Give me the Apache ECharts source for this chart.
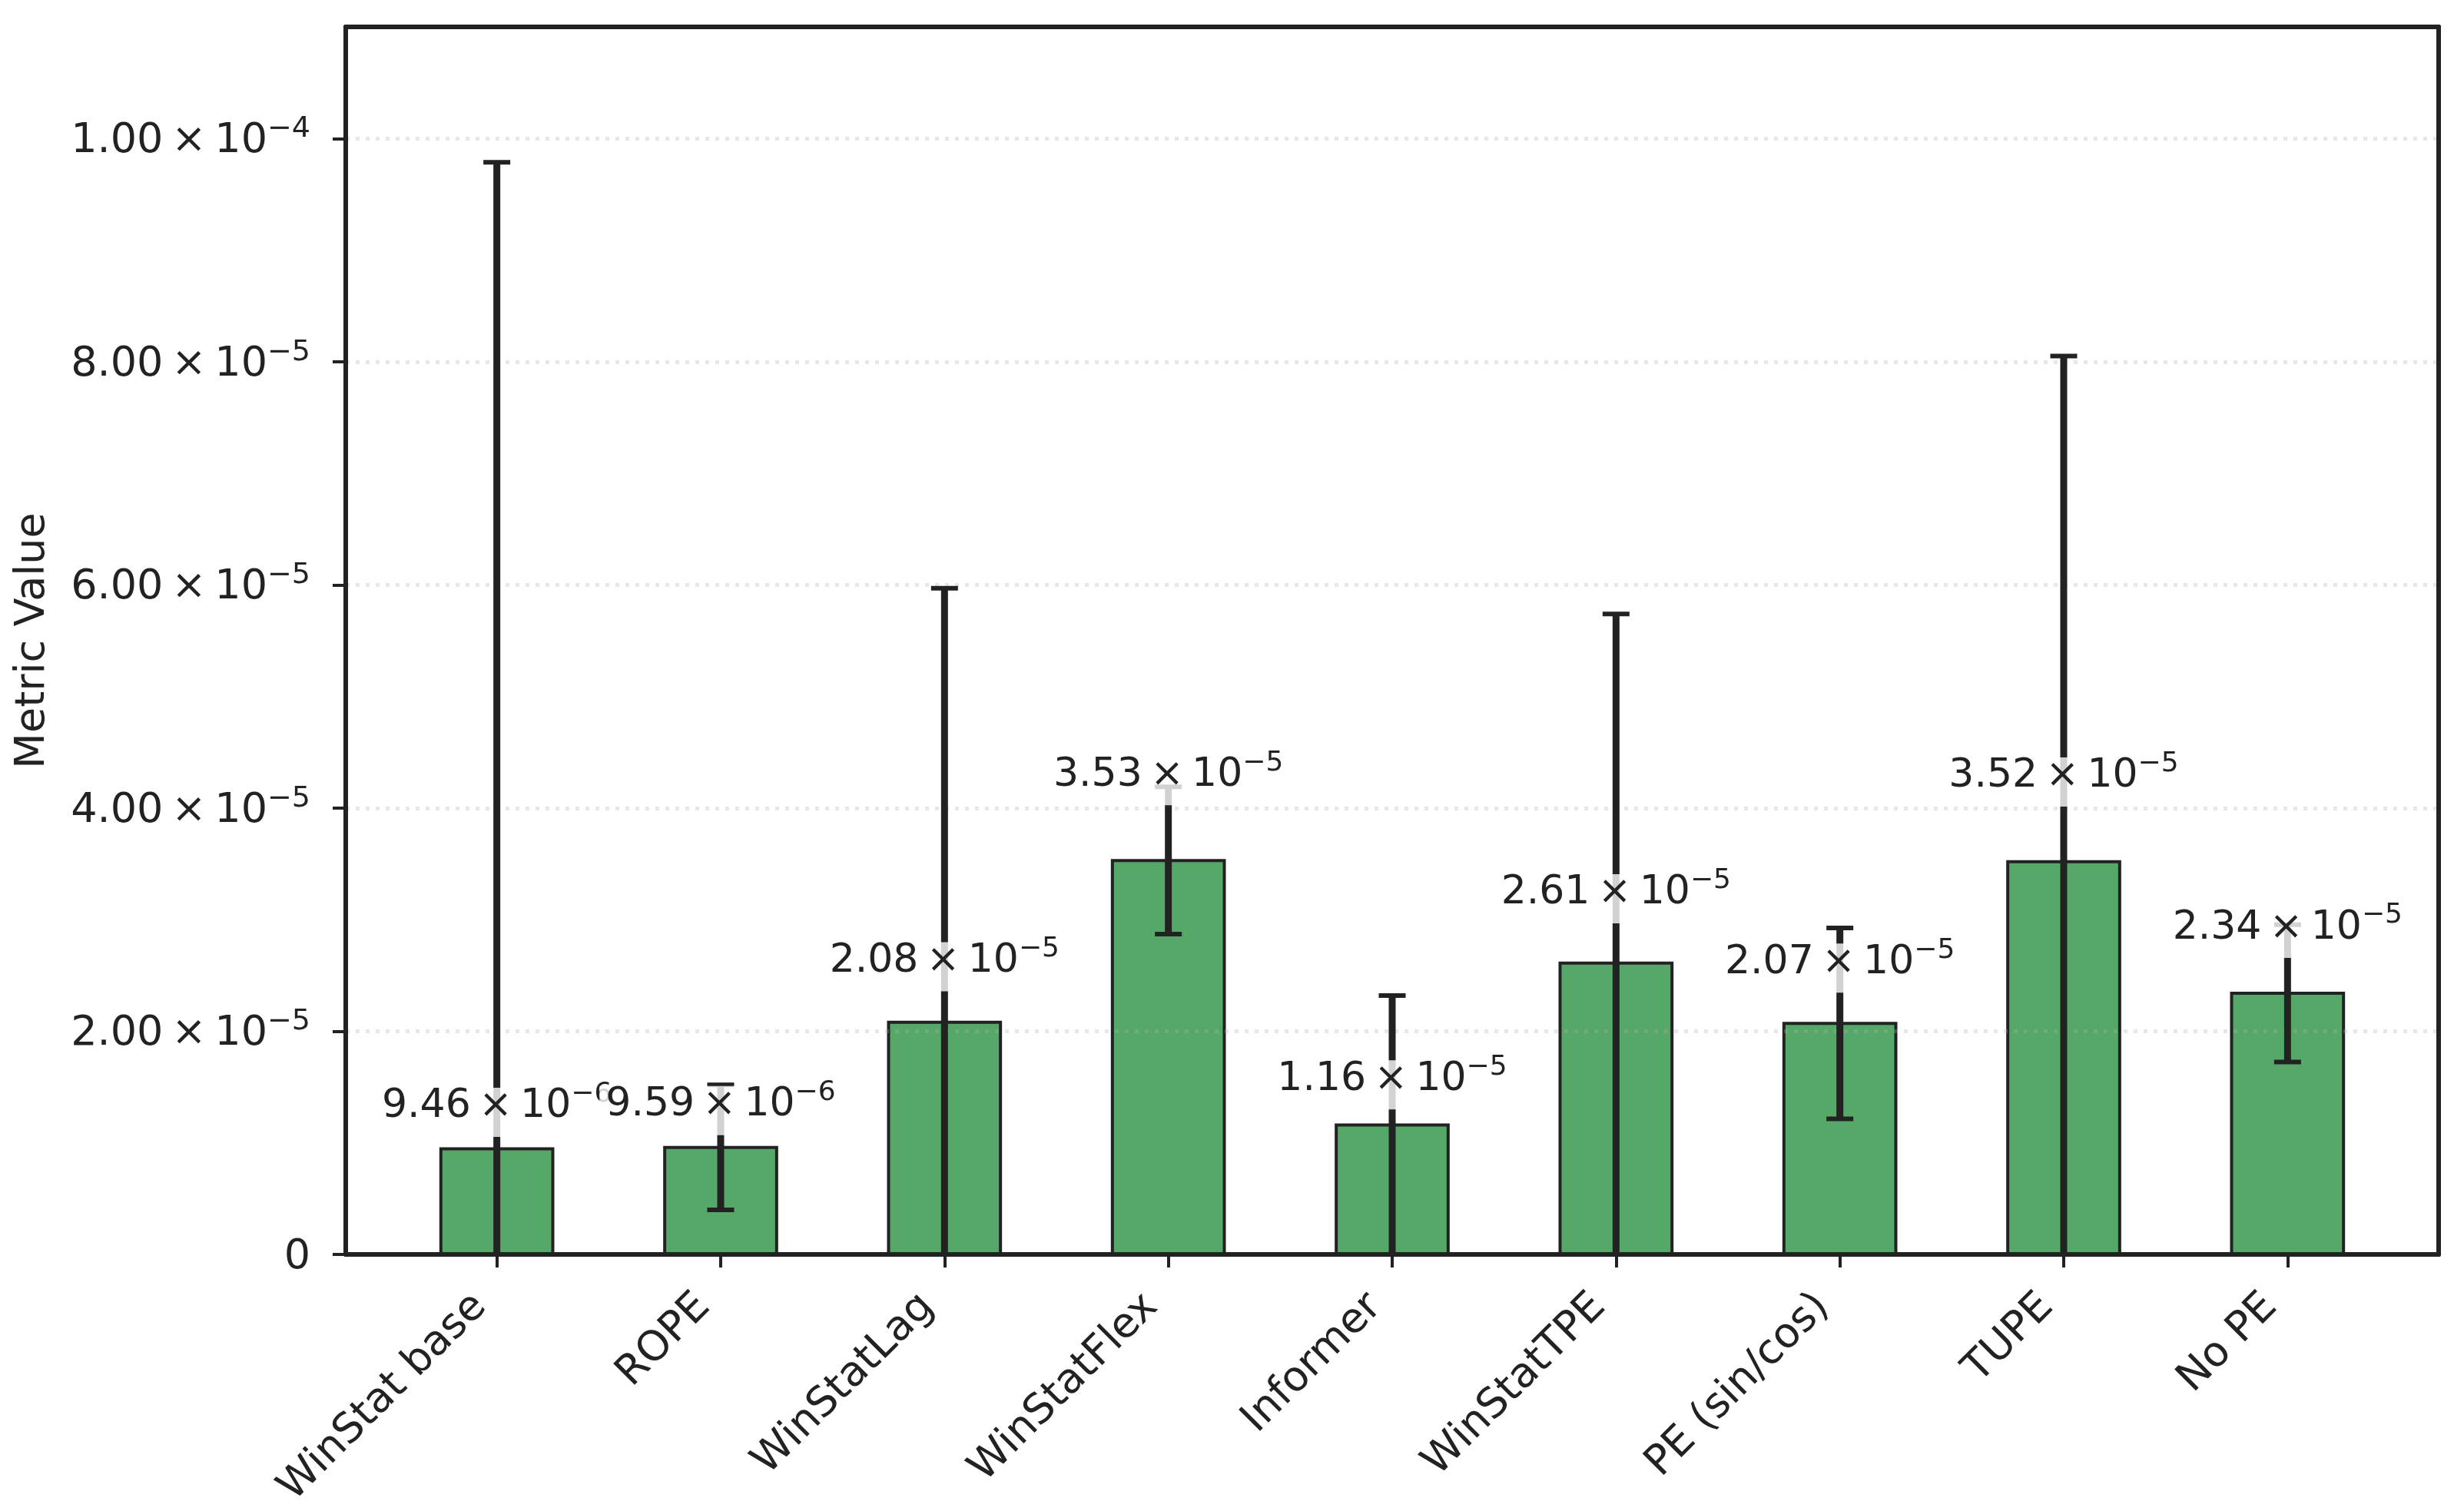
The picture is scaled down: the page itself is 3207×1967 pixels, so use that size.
<!DOCTYPE html>
<html><head><meta charset="utf-8">
<script src="https://cdn.jsdelivr.net/npm/echarts@6/dist/echarts.min.js"></script>
<style>html,body{margin:0;padding:0;background:#fff}#chart{width:3207px;height:1967px}</style>
</head><body><div id="chart"></div>
<script>
const categories = ['WinStat base','ROPE','WinStatLag','WinStatFlex','Informer','WinStatTPE','PE (sin/cos)','TUPE','No PE'];
const means  = [9.46e-6, 9.59e-6, 2.08e-5, 3.53e-5, 1.16e-5, 2.61e-5, 2.07e-5, 3.52e-5, 2.34e-5];
const errors = [8.84e-5, 5.6e-6, 3.89e-5, 6.6e-6, 1.16e-5, 3.13e-5, 8.55e-6, 4.53e-5, 6.15e-6];
const yTicks = [0, 2e-5, 4e-5, 6e-5, 8e-5, 1e-4];
const xTicks = categories.map((c, i) => i);

const FONT = 'DejaVu Sans';
const DARK = '#222222';
const BAR_W = 0.5;
const LABEL_FACTOR = 1.15;

function sci(v) {
  if (v === 0) return '{b|0}';
  const e = Math.floor(Math.log10(v) + 1e-9);
  const m = v / Math.pow(10, e);
  return '{b|' + m.toFixed(2) + '\u2009×\u200910}{s|' + (e < 0 ? '−' : '') + Math.abs(e) + '}';
}

const chart = echarts.init(document.getElementById('chart'));

const barData = means.map((m, i) => [i, m]);
const errData = means.map((m, i) => [i, m, errors[i]]);

const option = {
  backgroundColor: '#ffffff',
  animation: false,
  grid: { left: 450, right: 33, top: 35, bottom: 334, show: false },
  xAxis: [{
    type: 'value', min: -0.675, max: 8.675, position: 'bottom', z: 5,
    axisLine: { show: true, onZero: false, lineStyle: { color: DARK, width: 6 } },
    axisTick: { show: true, customValues: xTicks, length: 17, lineStyle: { color: DARK, width: 4 } },
    axisLabel: {
      customValues: xTicks, formatter: v => categories[Math.round(v)],
      rotate: 45, margin: 38, fontSize: 54, fontFamily: FONT, color: DARK,
      padding: [0, 31, 0, 0]
    },
    splitLine: { show: false }
  }, {
    type: 'value', min: -0.675, max: 8.675, position: 'top', z: 5,
    axisLine: { show: true, onZero: false, lineStyle: { color: DARK, width: 6 } },
    axisTick: { show: false }, axisLabel: { show: false }, splitLine: { show: false }
  }],
  yAxis: [{
    type: 'value', min: 0, max: 1.1e-4, interval: 2e-5, z: 2,
    name: 'Metric Value', nameLocation: 'middle', nameGap: 380,
    nameTextStyle: { fontSize: 54, fontFamily: FONT, color: DARK, lineHeight: 54 },
    axisLine: { show: true, onZero: false, lineStyle: { color: DARK, width: 6 } },
    axisTick: { show: true, customValues: yTicks, length: 17, lineStyle: { color: DARK, width: 4 } },
    axisLabel: {
      customValues: yTicks, formatter: v => sci(v), margin: 46,
      padding: [8, 0, 0, 0],
      rich: {
        b: { fontSize: 54, fontFamily: FONT, color: DARK, lineHeight: 54 },
        s: { fontSize: 38, fontFamily: FONT, color: DARK, lineHeight: 22, height: 22, verticalAlign: 'top' }
      }
    },
    splitLine: { show: true, lineStyle: { color: 'rgba(176,176,176,0.3)', width: 5, type: [5, 8] } }
  }, {
    type: 'value', min: 0, max: 1.1e-4, position: 'right', z: 5,
    axisLine: { show: true, onZero: false, lineStyle: { color: DARK, width: 6 } },
    axisTick: { show: false }, axisLabel: { show: false }, splitLine: { show: false }
  }],
  series: [{
    type: 'custom', name: 'bars', z: 1, xAxisIndex: 0, yAxisIndex: 0,
    data: barData,
    renderItem: (params, api) => {
      const x = api.value(0), v = api.value(1);
      const p0 = api.coord([x - BAR_W / 2, v]);
      const p1 = api.coord([x + BAR_W / 2, 0]);
      return {
        type: 'rect',
        shape: { x: p0[0], y: p0[1], width: p1[0] - p0[0], height: p1[1] - p0[1] },
        style: { fill: '#55A868', stroke: DARK, lineWidth: 4 }
      };
    }
  }, {
    type: 'custom', name: 'errors', z: 3, clip: true, xAxisIndex: 0, yAxisIndex: 0,
    data: errData,
    renderItem: (params, api) => {
      const x = api.value(0), m = api.value(1), e = api.value(2);
      const top = api.coord([x, m + e]);
      const bot = api.coord([x, m - e]);
      const capL = api.coord([x, 0])[0] - 17.5;
      const capR = capL + 35;
      return {
        type: 'group',
        children: [
          { type: 'line', shape: { x1: top[0], y1: top[1], x2: bot[0], y2: bot[1] }, style: { stroke: DARK, lineWidth: 9 } },
          { type: 'line', shape: { x1: capL, y1: top[1], x2: capR, y2: top[1] }, style: { stroke: DARK, lineWidth: 6 } },
          { type: 'line', shape: { x1: capL, y1: bot[1], x2: capR, y2: bot[1] }, style: { stroke: DARK, lineWidth: 6 } }
        ]
      };
    }
  }, {
    type: 'custom', name: 'labels', z: 4, xAxisIndex: 0, yAxisIndex: 0,
    data: barData,
    renderItem: (params, api) => {
      const x = api.value(0), v = api.value(1);
      const p = api.coord([x, v * LABEL_FACTOR]);
      return {
        type: 'text', x: p[0], y: p[1] + 5,
        style: {
          text: sci(v), align: 'center', verticalAlign: 'bottom',
          backgroundColor: 'rgba(255,255,255,0.8)', padding: [0, 8, 14, 8],
          rich: {
            b: { fontSize: 52, fontFamily: FONT, fill: DARK, lineHeight: 50 },
            s: { fontSize: 36, fontFamily: FONT, fill: DARK, lineHeight: 18, height: 18, verticalAlign: 'top' }
          }
        }
      };
    }
  }]
};
chart.setOption(option);
</script>
</body></html>
